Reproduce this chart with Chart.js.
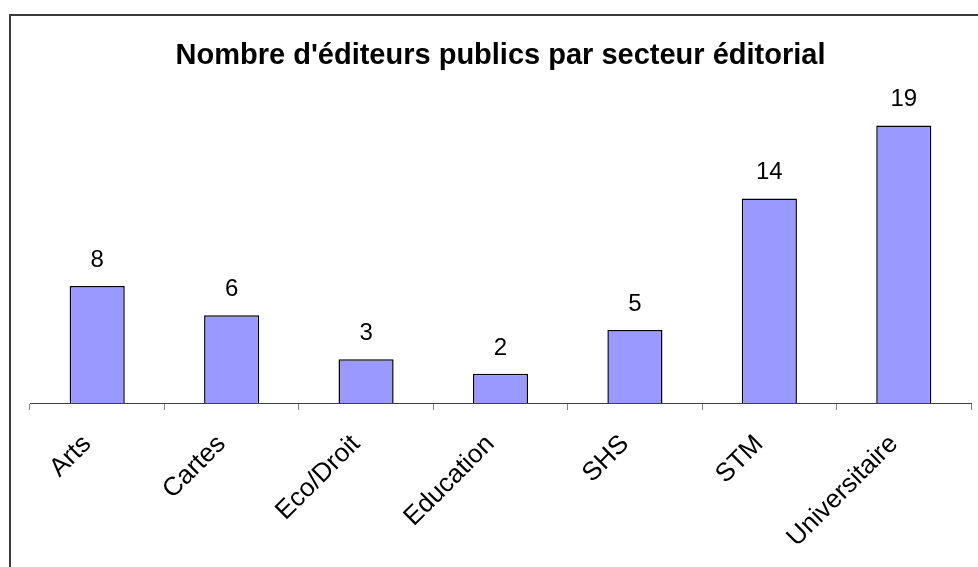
<!DOCTYPE html>
<html>
<head>
<meta charset="utf-8">
<script src="https://cdn.jsdelivr.net/npm/chart.js@4.4.1/dist/chart.umd.min.js"></script>
<style>
  html, body { margin: 0; padding: 0; background: #fff; }
  body { width: 978px; height: 567px; overflow: hidden; position: relative; }
  .frame {
    position: absolute; left: 9px; top: 14px;
    width: 1000px; height: 600px;
    border: 2px solid #3a3a3a;
  }
  #chart { position: absolute; left: 0; top: 0; }
</style>
</head>
<body>
<div class="frame"></div>
<canvas id="chart" width="978" height="567"></canvas>
<script>
const categories = ["Arts", "Cartes", "Eco/Droit", "Education", "SHS", "STM", "Universitaire"];
const editeurs = [8, 6, 3, 2, 5, 14, 19];
const chartTitle = "Nombre d'éditeurs publics par secteur éditorial";

const FONT = "'Liberation Sans', Arial, sans-serif";

// valeurs au-dessus des barres
const valueLabels = {
  id: "valueLabels",
  afterDatasetsDraw(chart) {
    const ctx = chart.ctx;
    const meta = chart.getDatasetMeta(0);
    ctx.save();
    ctx.font = `24px ${FONT}`;
    ctx.fillStyle = "#000";
    ctx.textAlign = "center";
    ctx.textBaseline = "alphabetic";
    meta.data.forEach((bar, i) => {
      ctx.fillText(String(editeurs[i]), bar.x, bar.y - 19);
    });
    ctx.restore();
  },
};

new Chart(document.getElementById("chart"), {
  type: "bar",
  data: {
    labels: categories,
    datasets: [
      {
        data: editeurs,
        backgroundColor: "#9999ff",
        borderColor: "#000",
        borderWidth: 1.5,
        categoryPercentage: 1,
        barPercentage: 0.41,
      },
    ],
  },
  options: {
    responsive: false,
    animation: false,
    layout: { padding: { left: 30, right: 7, top: 0, bottom: 0 } },
    scales: {
      x: {
        afterFit(scale) {
          scale.height = 164;
          scale.paddingLeft = 0;
          scale.paddingRight = 0;
        },
        grid: {
          display: true,
          drawOnChartArea: false,
          drawTicks: true,
          tickLength: 7,
          color: "#808080",
          lineWidth: 1,
        },
        border: { display: true, color: "#404040", width: 1 },
        ticks: {
          color: "#000",
          font: { family: FONT, size: 26 },
          minRotation: 45,
          maxRotation: 45,
          padding: 19,
          labelOffset: -10,
          autoSkip: false,
        },
      },
      y: {
        display: false,
        min: 0,
        max: 20,
      },
    },
    plugins: {
      legend: { display: false },
      tooltip: { enabled: false },
      title: {
        display: true,
        text: chartTitle,
        color: "#000",
        font: { family: FONT, size: 29, weight: "bold" },
        padding: { top: 39, bottom: 37 },
      },
    },
  },
  plugins: [valueLabels],
});
</script>
</body>
</html>
